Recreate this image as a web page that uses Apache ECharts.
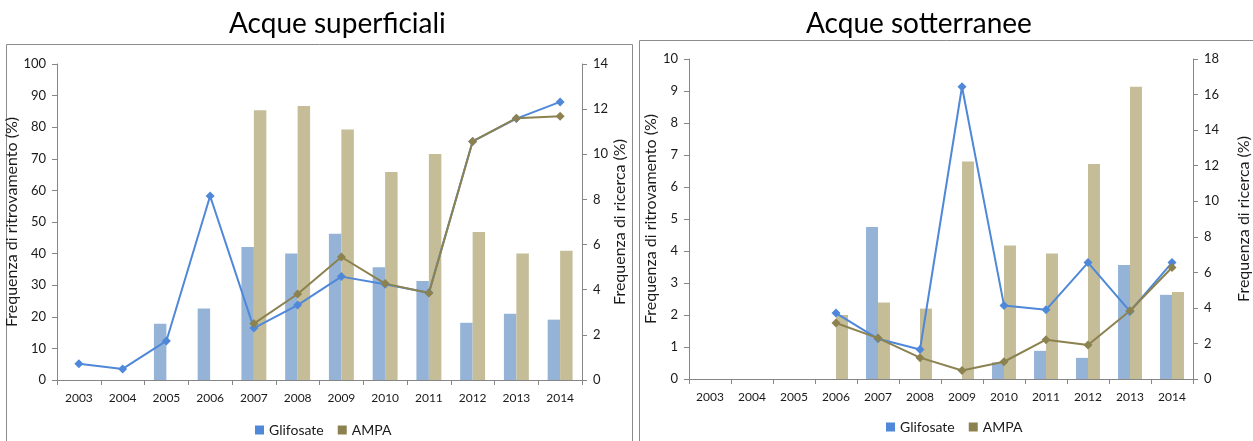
<!DOCTYPE html>
<html>
<head>
<meta charset="utf-8">
<script src="https://cdn.jsdelivr.net/npm/echarts@6/dist/echarts.min.js"></script>
<style>
html,body{margin:0;padding:0;background:#fff;}
#c{width:1253px;height:441px;}
</style>
</head>
<body>
<div id="c"></div>
<script>
var years = ['2003','2004','2005','2006','2007','2008','2009','2010','2011','2012','2013','2014'];

// Acque superficiali
var supBarGlifosate = [null, null, 17.8, 22.6, 42.1, 40.0, 46.3, 35.7, 31.3, 18.1, 21.0, 19.1];
var supBarAMPA      = [null, null, null, null, 85.4, 86.7, 79.3, 65.8, 71.5, 46.8, 40.0, 40.9];
var supLineGlifosate = [0.72, 0.49, 1.73, 8.15, 2.30, 3.32, 4.58, 4.24, 3.87, 10.57, 11.58, 12.32];
var supLineAMPA      = [null, null, null, null, 2.50, 3.81, 5.45, 4.27, 3.85, 10.57, 11.60, 11.68];

// Acque sotterranee
var sotBarGlifosate = [null, null, null, null, 4.75, null, null, 0.52, 0.88, 0.66, 3.56, 2.63];
var sotBarAMPA      = [null, null, null, 2.0, 2.39, 2.2, 6.8, 4.17, 3.92, 6.72, 9.13, 2.72];
var sotLineGlifosate = [null, null, null, 3.71, 2.26, 1.66, 16.44, 4.14, 3.89, 6.55, 3.80, 6.55];
var sotLineAMPA      = [null, null, null, 3.15, 2.30, 1.20, 0.48, 0.97, 2.21, 1.91, 3.84, 6.27];

var titles = ['Acque superficiali', 'Acque sotterranee'];
var leftAxisName = 'Frequenza di ritrovamento (%)';
var rightAxisName = 'Frequenza di ricerca (%)';

var FONT = 'Lato, "Liberation Sans", sans-serif';
var axisColor = '#868686';
var txt = '#1a1a1a';
var cBarG = '#95B3D7', cBarA = '#C4BD97', cLineG = '#4F88D8', cLineA = '#8C8250';

function yAxis(grid, min, max, interval, name, pos, gap) {
  return {
    type: 'value', gridIndex: grid, min: min, max: max, interval: interval, position: pos,
    name: name, nameLocation: 'middle', nameGap: gap, nameRotate: 90,
    nameTextStyle: {fontFamily: FONT, fontSize: 16, color: txt},
    axisLine: {show: true, lineStyle: {color: axisColor, width: 1}},
    axisTick: {show: true, length: 5, lineStyle: {color: axisColor}},
    axisLabel: {fontFamily: FONT, fontSize: 13, color: txt, margin: 11},
    splitLine: {show: false}
  };
}
function xAxis(grid) {
  return {
    type: 'category', gridIndex: grid, data: years, boundaryGap: true,
    axisLine: {lineStyle: {color: axisColor}},
    axisTick: {show: true, length: 5, lineStyle: {color: axisColor}},
    axisLabel: {fontFamily: FONT, fontSize: 12, color: txt, margin: 12, interval: 0}
  };
}
function bar(name, data, x, y, color) {
  return {type: 'bar', name: name, data: data, xAxisIndex: x, yAxisIndex: y,
    barGap: '0%', barCategoryGap: '43%', itemStyle: {color: color}, silent: true};
}
function line(name, data, x, y, color) {
  return {type: 'line', name: name, data: data, xAxisIndex: x, yAxisIndex: y,
    symbol: 'diamond', symbolSize: 9, connectNulls: false,
    lineStyle: {color: color, width: 2}, itemStyle: {color: color}, z: 5};
}

var chart = echarts.init(document.getElementById('c'), null, {renderer: 'canvas'});
chart.setOption({
  animation: false,
  backgroundColor: '#fff',
  graphic: [
    {type: 'rect', shape: {x: 6.5, y: 44.5, width: 626, height: 420}, style: {fill: 'none', stroke: '#8c8c8c', lineWidth: 1}, silent: true, z: -1},
    {type: 'rect', shape: {x: 639.5, y: 40.5, width: 640, height: 420}, style: {fill: 'none', stroke: '#8c8c8c', lineWidth: 1}, silent: true, z: -1}
  ],
  title: [
    {text: titles[0], left: 224, top: 5, textStyle: {fontFamily: FONT, fontSize: 28, fontWeight: 'normal', color: '#000'}},
    {text: titles[1], left: 801, top: 5, textStyle: {fontFamily: FONT, fontSize: 28, fontWeight: 'normal', color: '#000'}}
  ],
  legend: [
    {data: [{name: 'Glifosate'}, {name: 'AMPA'}], left: 250, top: 418, icon: 'rect', itemWidth: 9, itemHeight: 9, itemGap: 14,
     textStyle: {fontFamily: FONT, fontSize: 14, color: txt}, selectedMode: false},
    {data: [{name: 'Glifosate'}, {name: 'AMPA'}], left: 881, top: 415, icon: 'rect', itemWidth: 9, itemHeight: 9, itemGap: 14,
     textStyle: {fontFamily: FONT, fontSize: 14, color: txt}, selectedMode: false}
  ],
  grid: [
    {left: 57, right: 671, top: 64, bottom: 61, containLabel: false},
    {left: 689, right: 58, top: 59, bottom: 62, containLabel: false}
  ],
  xAxis: [xAxis(0), xAxis(1)],
  yAxis: [
    yAxis(0, 0, 100, 10, leftAxisName, 'left', 33),
    yAxis(0, 0, 14, 2, rightAxisName, 'right', 30),
    yAxis(1, 0, 10, 1, leftAxisName, 'left', 27),
    yAxis(1, 0, 18, 2, rightAxisName, 'right', 43)
  ],
  series: [
    bar('Glifosate (ritrovamento)', supBarGlifosate, 0, 0, cBarG),
    bar('AMPA (ritrovamento)', supBarAMPA, 0, 0, cBarA),
    line('Glifosate', supLineGlifosate, 0, 1, cLineG),
    line('AMPA', supLineAMPA, 0, 1, cLineA),
    bar('Glifosate (ritrovamento) ', sotBarGlifosate, 1, 2, cBarG),
    bar('AMPA (ritrovamento) ', sotBarAMPA, 1, 2, cBarA),
    line('Glifosate', sotLineGlifosate, 1, 3, cLineG),
    line('AMPA', sotLineAMPA, 1, 3, cLineA)
  ]
});
</script>
</body>
</html>
